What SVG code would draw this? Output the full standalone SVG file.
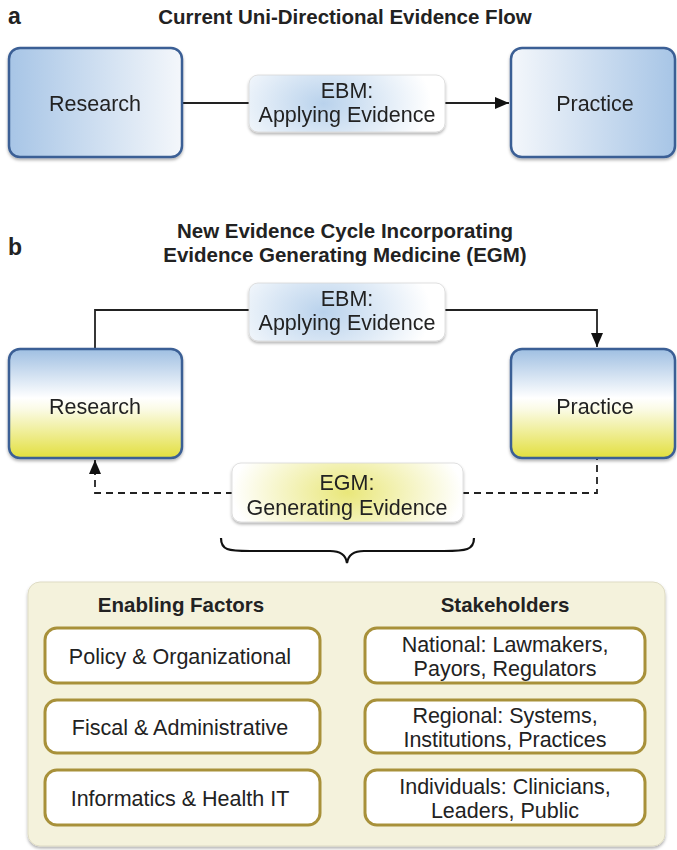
<svg xmlns="http://www.w3.org/2000/svg" width="677" height="850" viewBox="0 0 677 850">
  <style>
    text { font-family: "Liberation Sans", Arial, sans-serif; fill: #222; }
    .title { font-size: 20.5px; font-weight: bold; text-anchor: middle; }
    .head { font-size: 20.5px; font-weight: bold; text-anchor: middle; }
    .panel { font-size: 23px; font-weight: bold; }
    .lbl { font-size: 21.5px; text-anchor: middle; }
    .item { font-size: 21.5px; text-anchor: middle; }
    .main { stroke: #3b5f95; stroke-width: 2.5; }
    .tag { stroke: #d8d8d8; stroke-width: 0.8; }
    .factor { fill: #ffffff; stroke: #a8913a; stroke-width: 3; }
    .conn { fill: none; stroke: #222; stroke-width: 1.8; }
    .dash { stroke-dasharray: 7 5; }
  </style>
  <defs>
    <linearGradient id="gBlueL" x1="0" y1="0" x2="1" y2="0">
      <stop offset="0" stop-color="#a7c5e6"/>
      <stop offset="1" stop-color="#f4f7fb"/>
    </linearGradient>
    <linearGradient id="gBlueR" x1="0" y1="0" x2="1" y2="0">
      <stop offset="0" stop-color="#f4f7fb"/>
      <stop offset="1" stop-color="#a7c5e6"/>
    </linearGradient>
    <linearGradient id="gCycle" x1="0" y1="0" x2="0" y2="1">
      <stop offset="0" stop-color="#9fbfe2"/>
      <stop offset="0.45" stop-color="#ffffff"/>
      <stop offset="0.55" stop-color="#fbfbe6"/>
      <stop offset="1" stop-color="#e2df3e"/>
    </linearGradient>
    <radialGradient id="gEbm" cx="0.38" cy="0.5" r="0.55" gradientTransform="translate(0.38 0.5) scale(1 2.2) translate(-0.38 -0.5)">
      <stop offset="0" stop-color="#b9d2ec"/>
      <stop offset="1" stop-color="#ffffff"/>
    </radialGradient>
    <radialGradient id="gEgm" cx="0.5" cy="0.5" r="0.5" gradientTransform="translate(0.5 0.5) scale(1 2.2) translate(-0.5 -0.5)">
      <stop offset="0" stop-color="#e9e77a"/>
      <stop offset="1" stop-color="#ffffff"/>
    </radialGradient>
    <filter id="shadow" x="-10%" y="-10%" width="120%" height="130%">
      <feDropShadow dx="0" dy="2" stdDeviation="1.6" flood-color="#000" flood-opacity="0.3"/>
    </filter>
    <marker id="arrowBig" viewBox="0 0 10 10" refX="10" refY="5" markerWidth="14" markerHeight="12" markerUnits="userSpaceOnUse" orient="auto" preserveAspectRatio="none">
      <path d="M0,0 L10,5 L0,10 z" fill="#111"/>
    </marker>
  </defs>

  <!-- panel a -->
  <text class="panel" x="8" y="24">a</text>
  <text class="title" x="345" y="24">Current Uni-Directional Evidence Flow</text>

  <g id="connectors">
    <!-- a: research to practice -->
    <path class="conn" d="M182,103 H250"/>
    <path class="conn" d="M444,103 H509" marker-end="url(#arrowBig)"/>
    <!-- b: applying evidence -->
    <path class="conn" d="M95,348 V310 H250"/>
    <path class="conn" d="M444,310 H597 V347" marker-end="url(#arrowBig)"/>
    <!-- b: generating evidence -->
    <path class="conn dash" d="M233,493 H95 V460" marker-end="url(#arrowBig)"/>
    <path class="conn dash" d="M462,493 H597 V459"/>
    <!-- brace -->
    <path d="M221,538 C221,550 228,551 250,551 L330,551 C342,551 346,556 347,563 C348,556 352,551 364,551 L444,551 C466,551 474,550 474,538" fill="none" stroke="#111" stroke-width="2.2"/>
  </g>

  <g id="research-a" filter="url(#shadow)">
    <rect class="main" x="9" y="48" width="173" height="109" rx="11" fill="url(#gBlueL)"/>
    <text class="lbl" x="95" y="111">Research</text>
  </g>
  <g id="ebm-a" filter="url(#shadow)">
    <rect class="tag" x="249" y="75" width="196" height="57" rx="9" fill="url(#gEbm)"/>
    <text class="lbl" x="347" y="98">EBM:</text>
    <text class="lbl" x="347" y="122">Applying Evidence</text>
  </g>
  <g id="practice-a" filter="url(#shadow)">
    <rect class="main" x="511" y="48" width="164" height="109" rx="11" fill="url(#gBlueR)"/>
    <text class="lbl" x="595" y="111">Practice</text>
  </g>

  <!-- panel b -->
  <text class="panel" x="8" y="255">b</text>
  <text class="title" x="345" y="238">New Evidence Cycle Incorporating</text>
  <text class="title" x="345" y="262">Evidence Generating Medicine (EGM)</text>

  <g id="ebm-b" filter="url(#shadow)">
    <rect class="tag" x="249" y="283" width="196" height="58" rx="9" fill="url(#gEbm)"/>
    <text class="lbl" x="347" y="306">EBM:</text>
    <text class="lbl" x="347" y="330">Applying Evidence</text>
  </g>
  <g id="research-b" filter="url(#shadow)">
    <rect class="main" x="9" y="349" width="173" height="109" rx="11" fill="url(#gCycle)"/>
    <text class="lbl" x="95" y="414">Research</text>
  </g>
  <g id="practice-b" filter="url(#shadow)">
    <rect class="main" x="511" y="349" width="164" height="109" rx="11" fill="url(#gCycle)"/>
    <text class="lbl" x="595" y="414">Practice</text>
  </g>
  <g id="egm" filter="url(#shadow)">
    <rect class="tag" x="232" y="463" width="231" height="59" rx="9" fill="url(#gEgm)"/>
    <text class="lbl" x="347" y="490">EGM:</text>
    <text class="lbl" x="347" y="515">Generating Evidence</text>
  </g>

  <!-- enabling factors and stakeholders -->
  <g id="context" filter="url(#shadow)">
    <rect x="28" y="582" width="637" height="264" rx="12" fill="#f4f2dc" stroke="#dedbc4" stroke-width="1"/>
  </g>
  <text class="head" x="181" y="612">Enabling Factors</text>
  <text class="head" x="505" y="612">Stakeholders</text>

  <g id="policy">
    <rect class="factor" x="45" y="628" width="275" height="55" rx="12"/>
    <text class="item" x="180" y="664">Policy &amp; Organizational</text>
  </g>
  <g id="fiscal">
    <rect class="factor" x="45" y="700" width="275" height="53" rx="12"/>
    <text class="item" x="180" y="735">Fiscal &amp; Administrative</text>
  </g>
  <g id="informatics">
    <rect class="factor" x="45" y="770" width="275" height="55" rx="12"/>
    <text class="item" x="180" y="806">Informatics &amp; Health IT</text>
  </g>
  <g id="national">
    <rect class="factor" x="365" y="628" width="280" height="55" rx="12"/>
    <text class="item" x="505" y="652">National: Lawmakers,</text>
    <text class="item" x="505" y="676">Payors, Regulators</text>
  </g>
  <g id="regional">
    <rect class="factor" x="365" y="700" width="280" height="53" rx="12"/>
    <text class="item" x="505" y="723">Regional: Systems,</text>
    <text class="item" x="505" y="747">Institutions, Practices</text>
  </g>
  <g id="individuals">
    <rect class="factor" x="365" y="770" width="280" height="55" rx="12"/>
    <text class="item" x="505" y="794">Individuals: Clinicians,</text>
    <text class="item" x="505" y="818">Leaders, Public</text>
  </g>
</svg>
